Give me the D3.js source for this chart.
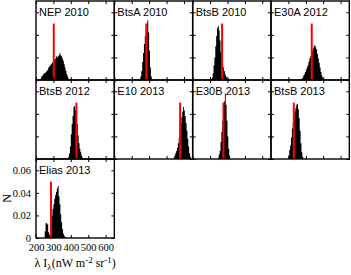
<!DOCTYPE html>
<html>
<head>
<meta charset="utf-8">
<script src="https://cdn.jsdelivr.net/npm/d3@7"></script>
<style>
  body { margin: 0; background: #fff; }
  svg { display: block; }
</style>
</head>
<body>
<div class="chart"></div>
<script>
// panel titles, read left to right, top to bottom
const panelNames = ['NEP 2010', 'BtsA 2010', 'BtsB 2010', 'E30A 2012',
                    'BtsB 2012', 'E10 2013', 'E30B 2013', 'BtsB 2013',
                    'Elias 2013'];

// red marker position for each panel (nW m^-2 sr^-1)
const redLines = [302, 384, 369, 434, 432, 578, 377, 331, 286];
const redHeight = 0.05;

// histogram: first bin edge, bin width 5
const binWidth = 5;
const binStarts = [225, 350, 310, 375, 385, 540, 345, 300, 250];

const histNEP2010 = [0.001, 0.003, 0.004, 0.005, 0.006, 0.006, 0.007, 0.008, 0.009, 0.011,
  0.012, 0.013, 0.014, 0.015, 0.016, 0.017, 0.018, 0.019, 0.021, 0.020, 0.021, 0.022,
  0.024, 0.022, 0.021, 0.019, 0.017, 0.014, 0.011, 0.008, 0.005, 0.003, 0.001];
const histBtsA2010 = [0.003, 0.008, 0.016, 0.024, 0.032, 0.039, 0.045, 0.050, 0.053,
  0.042, 0.026, 0.011, 0.003];
const histBtsB2010 = [0.002, 0.006, 0.013, 0.020, 0.030, 0.039, 0.046, 0.048, 0.044,
  0.035, 0.025, 0.018, 0.014, 0.011, 0.008, 0.005, 0.003, 0.002, 0.001];
const histE30A2012 = [0.001, 0.002, 0.004, 0.005, 0.007, 0.009, 0.011, 0.013, 0.016,
  0.019, 0.021, 0.024, 0.026, 0.028, 0.030, 0.031, 0.029, 0.027, 0.023, 0.019, 0.015,
  0.011, 0.007, 0.004, 0.002];
const histBtsB2012 = [0.002, 0.005, 0.011, 0.022, 0.031, 0.038, 0.046, 0.047, 0.043,
  0.038, 0.031, 0.021, 0.014, 0.009, 0.006, 0.003, 0.001];
const histE102013 = [0.001, 0.003, 0.005, 0.007, 0.010, 0.014, 0.019, 0.026, 0.031,
  0.037, 0.042, 0.046, 0.043, 0.038, 0.032, 0.025, 0.018, 0.011, 0.005, 0.002];
const histE30B2013 = [0.001, 0.004, 0.007, 0.015, 0.024, 0.034, 0.043, 0.051, 0.058,
  0.048, 0.034, 0.020, 0.009, 0.003];
const histBtsB2013 = [0.003, 0.008, 0.012, 0.019, 0.027, 0.032, 0.037, 0.042, 0.045,
  0.048, 0.049, 0.044, 0.036, 0.025, 0.014, 0.006, 0.002];
const histElias2013 = [0.006, 0.013, 0.013, 0.012, 0.005, 0.003, 0.003, 0.010, 0.020,
  0.026, 0.030, 0.035, 0.038, 0.041, 0.044, 0.046, 0.037, 0.030, 0.021, 0.014, 0.008,
  0.004, 0.002, 0.001];

const hists = [histNEP2010, histBtsA2010, histBtsB2010, histE30A2012, histBtsB2012,
               histE102013, histE30B2013, histBtsB2013, histElias2013];

const xTicks = [200, 300, 400, 500, 600];
const yTicks = [0, 0.02, 0.04, 0.06];

const width = 351, height = 275;
const marginLeft = 36, marginTop = 1;
const pw = 78.33, ph = 79;

var svg = d3.select('.chart').append('svg')
  .attr('width', width)
  .attr('height', height);

var x = d3.scaleLinear().domain([200, 650]).range([0, pw]);
var y = d3.scaleLinear().domain([0, 0.07]).range([ph, 0]);

var area = d3.area()
  .x(d => x(d[0]))
  .y0(ph)
  .y1(d => y(d[1]))
  .curve(d3.curveStepAfter);

panelNames.forEach(function(name, i) {
  var col = i % 4, row = Math.floor(i / 4);
  var g = svg.append('g')
    .attr('transform', 'translate(' + (marginLeft + col * pw) + ',' + (marginTop + row * ph) + ')');

  var pts = hists[i].map((v, k) => [binStarts[i] + k * binWidth, v]);
  pts.push([binStarts[i] + hists[i].length * binWidth, 0]);

  g.append('path')
    .datum(pts)
    .attr('d', area)
    .attr('fill', 'black');

  g.append('line')
    .attr('x1', x(redLines[i])).attr('x2', x(redLines[i]))
    .attr('y1', y(0)).attr('y2', y(redHeight))
    .attr('stroke', '#ff0000')
    .attr('stroke-width', 2);

  var showLabels = (i === 8);

  var axB = d3.axisBottom(x).tickValues(xTicks).tickSize(-3).tickPadding(6);
  var axT = d3.axisTop(x).tickValues(xTicks).tickSize(-3).tickFormat('');
  var axL = d3.axisLeft(y).tickValues(yTicks).tickSize(-3).tickPadding(5);
  var axR = d3.axisRight(y).tickValues(yTicks).tickSize(-3).tickFormat('');
  if (!showLabels) {
    axB.tickFormat('');
    axL.tickFormat('');
  } else {
    axL.tickFormat(d => d === 0 ? '0' : d3.format('.2f')(d));
  }

  [[axB, 'translate(0,' + ph + ')'], [axT, null], [axL, null], [axR, 'translate(' + pw + ',0)']]
    .forEach(function(a) {
      var ag = g.append('g').call(a[0]);
      if (a[1]) ag.attr('transform', a[1]);
      ag.select('.domain').remove();
      ag.selectAll('line').attr('stroke', 'black').attr('stroke-width', 1);
      ag.selectAll('text')
        .attr('fill', 'black')
        .style('font-family', '"Liberation Serif", "Times New Roman", serif')
        .style('font-size', '10.5px');
    });

  g.append('rect')
    .attr('width', pw).attr('height', ph)
    .attr('fill', 'none')
    .attr('stroke', 'black')
    .attr('stroke-width', 1.4);

  g.append('text')
    .attr('x', 3).attr('y', 15)
    .style('font-family', '"Liberation Sans", Arial, sans-serif')
    .style('font-size', '11px')
    .text(name);
});

// axis titles
var xt = svg.append('text')
  .attr('x', marginLeft + pw / 2).attr('y', 267)
  .attr('text-anchor', 'middle')
  .style('font-family', '"Liberation Serif", "Times New Roman", serif')
  .style('font-size', '12px');
xt.append('tspan').text('\u03bb I');
xt.append('tspan').attr('dy', 3).style('font-size', '9px').text('\u03bb');
xt.append('tspan').attr('dy', -3).text('(nW m');
xt.append('tspan').attr('dy', -4).style('font-size', '9px').text('-2');
xt.append('tspan').attr('dy', 4).text(' sr');
xt.append('tspan').attr('dy', -4).style('font-size', '9px').text('-1');
xt.append('tspan').attr('dy', 4).text(')');

svg.append('text')
  .attr('transform', 'translate(11,' + (marginTop + 2 * ph + ph / 2) + ') rotate(-90)')
  .attr('text-anchor', 'middle')
  .style('font-family', '"Liberation Serif", "Times New Roman", serif')
  .style('font-size', '12px')
  .text('N');
</script>
</body>
</html>
